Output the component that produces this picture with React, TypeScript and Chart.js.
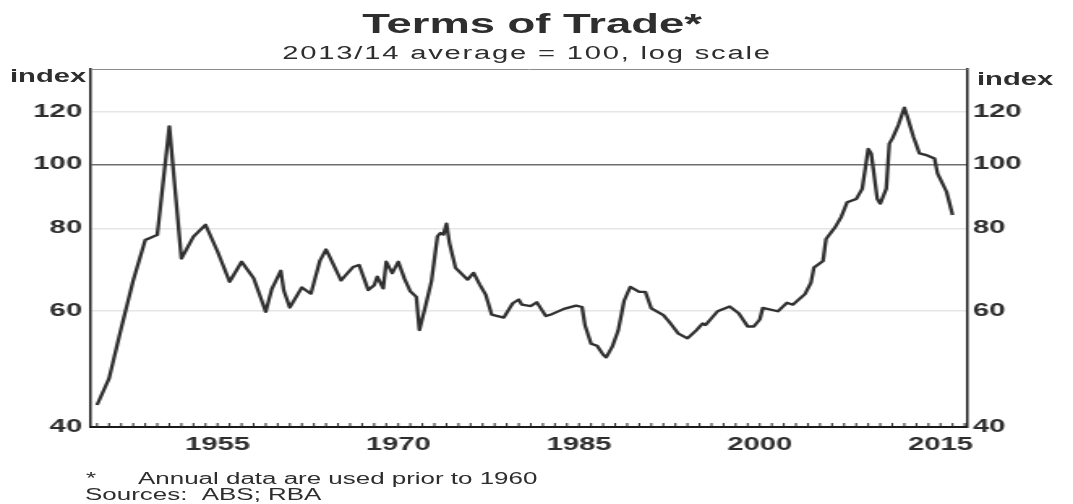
import React, { useEffect, useRef } from 'react';
import { Chart, registerables } from 'chart.js';

Chart.register(...registerables);

// ---------- data ----------
const annualYears = [1945, 1946, 1947, 1948, 1949, 1950, 1951, 1952, 1953, 1954, 1955, 1956, 1957, 1958, 1959];
const annualValues = [43.2, 47.4, 56.4, 66.7, 76.8, 78.2, 114.2, 72.0, 77.7, 81.0, 73.8, 66.4, 71.2, 67.2, 59.8];

const quarterlyDates = [
  1959.5, 1960.25, 1960.5, 1961.0, 1961.5, 1962.0, 1962.75, 1963.5, 1964.0, 1964.25,
  1965.25, 1965.5, 1966.25, 1966.75, 1967.0, 1967.5, 1968.0, 1968.25, 1968.75, 1969.0,
  1969.5, 1970.0, 1970.5, 1971.0, 1971.5, 1971.75, 1972.25, 1972.75, 1973.25, 1973.5,
  1973.75, 1974.0, 1974.25, 1974.75, 1975.75, 1976.25, 1976.75, 1977.25, 1977.75, 1978.25,
  1978.75, 1979.5, 1980.0, 1980.25, 1981.0, 1981.5, 1982.25, 1982.75, 1983.75, 1984.75,
  1985.25, 1985.5, 1986.0, 1986.5, 1987.0, 1987.25, 1987.75, 1988.25, 1988.75, 1989.25,
  1990.0, 1990.5, 1991.0, 1992.0, 1992.5, 1993.25, 1994.0, 1994.75, 1995.25, 1995.5,
  1996.5, 1997.5, 1998.25, 1999.0, 1999.5, 2000.0, 2000.25, 2001.5, 2002.25, 2002.75,
  2003.75, 2004.25, 2004.5, 2005.25, 2005.5, 2006.25, 2006.75, 2007.25, 2008.0, 2008.5,
  2009.0, 2009.25, 2009.75, 2010.0, 2010.5, 2010.75, 2011.0, 2011.5, 2012.0, 2012.25,
  2012.75, 2013.25, 2013.75, 2014.5, 2014.75, 2015.5, 2016.0,
];
const quarterlyValues = [
  64.7, 69.0, 64.4, 60.7, 62.9, 65.1, 63.7, 71.5, 74.3, 72.8,
  66.7, 67.5, 69.9, 70.4, 68.4, 64.5, 65.6, 67.6, 64.9, 71.2,
  68.4, 71.2, 67.2, 64.2, 63.0, 56.1, 60.9, 66.5, 77.8, 78.7,
  78.3, 81.3, 76.0, 69.7, 66.9, 68.5, 65.8, 63.5, 59.2, 58.9,
  58.6, 61.6, 62.4, 61.3, 61.0, 61.8, 58.9, 59.3, 60.4, 61.1,
  60.8, 57.0, 53.5, 53.1, 51.5, 51.0, 52.9, 56.0, 62.2, 65.2,
  64.1, 64.1, 60.5, 59.1, 57.7, 55.4, 54.5, 56.1, 57.4, 57.1,
  59.9, 60.9, 59.5, 56.8, 56.8, 58.2, 60.6, 59.9, 61.7, 61.3,
  63.6, 66.2, 69.8, 71.4, 77.1, 80.3, 83.2, 87.6, 88.6, 91.8,
  105.6, 103.8, 88.7, 87.2, 91.9, 107.5, 109.4, 114.7, 121.9, 118.1,
  110.1, 103.9, 103.4, 102.1, 96.9, 90.9, 83.8,
];

const yTickValues = [40, 60, 80, 100, 120];
const xLabelYears = [1955, 1970, 1985, 2000, 2015];

const TITLE = 'Terms of Trade*';
const SUBTITLE = '2013/14 average = 100, log scale';
const Y_UNIT = 'index';
const NOTE_MARK = '*';
const NOTE_TEXT = 'Annual data are used prior to 1960';
const SOURCES = 'Sources:\u00a0\u00a0ABS; RBA';

// ---------- layout / style ----------
const X_MIN = 1944.5;
const X_MAX = 2017.2;
const Y_MIN = 40;
const Y_MAX = 139.5;

const W = 1073;
const H = 504;
const CW = 662; // canvas width before horizontal stretch
const S = W / CW; // horizontal stretch of the scanned original
const FONT = "'Liberation Sans', Arial, Helvetica, sans-serif";
const INK = '#2e2e2e';

const framePlugin = {
  id: 'frame',
  afterDraw(chart: any) {
    const { ctx, chartArea, scales } = chart;
    const { left, right, top, bottom } = chartArea;
    ctx.save();
    // top frame line
    ctx.strokeStyle = '#8c8c8c';
    ctx.lineWidth = 1;
    ctx.beginPath();
    ctx.moveTo(left, top + 0.5);
    ctx.lineTo(right, top + 0.5);
    ctx.stroke();
    // yearly inside ticks on the bottom axis
    const xs = scales.x;
    ctx.strokeStyle = '#222222';
    ctx.lineWidth = 1;
    ctx.beginPath();
    for (let yr = Math.ceil(xs.min); yr <= xs.max; yr++) {
      const px = xs.getPixelForValue(yr);
      ctx.moveTo(px, bottom);
      ctx.lineTo(px, bottom - 4);
    }
    ctx.stroke();
    ctx.restore();
  },
};

const tickFont = { family: FONT, size: 18, weight: 'bold' as const };

export default function App() {
  const ref = useRef<HTMLCanvasElement>(null);

  useEffect(() => {
    const canvas = ref.current;
    if (!canvas) return;
    const points = [
      ...annualYears.map((x, i) => ({ x, y: annualValues[i] })),
      ...quarterlyDates.map((x, i) => ({ x, y: quarterlyValues[i] })),
    ];
    const chart = new Chart(canvas, {
      type: 'line',
      data: {
        datasets: [
          {
            data: points,
            borderColor: '#303030',
            borderWidth: 2.3,
            pointRadius: 0,
            tension: 0,
            borderJoinStyle: 'round',
            fill: false,
          },
        ],
      },
      options: {
        responsive: false,
        animation: false,
        devicePixelRatio: 1,
        parsing: false,
        normalized: true,
        layout: { padding: { top: 69, bottom: 37, left: 0, right: 0 } },
        plugins: {
          legend: { display: false },
          tooltip: { enabled: false },
          title: { display: false },
        },
        scales: {
          x: {
            type: 'linear',
            min: X_MIN,
            max: X_MAX,
            afterBuildTicks: (s: any) => {
              s.ticks = xLabelYears.map((v) => ({ value: v }));
            },
            afterFit: (s: any) => {
              s.height = 40;
            },
            ticks: {
              autoSkip: false,
              maxRotation: 0,
              padding: 7,
              font: tickFont,
              color: INK,
              callback: (v: any) => String(v),
            },
            grid: { display: false, drawTicks: false },
            border: { display: true, color: '#1a1a1a', width: 2 },
          },
          y: {
            type: 'logarithmic',
            position: 'left',
            min: Y_MIN,
            max: Y_MAX,
            afterBuildTicks: (s: any) => {
              s.ticks = yTickValues.map((v) => ({ value: v }));
            },
            afterFit: (s: any) => {
              s.width = 91 / S;
            },
            ticks: {
              padding: 5.5,
              font: tickFont,
              color: INK,
              callback: (v: any) => String(v),
            },
            grid: {
              drawTicks: false,
              color: (c: any) =>
                c.tick && c.tick.value === 100
                  ? '#6e6e6e'
                  : c.tick && c.tick.value === 40
                  ? 'rgba(0,0,0,0)'
                  : '#e6e6e6',
              lineWidth: 1.5,
            },
            border: { display: true, color: '#1a1a1a', width: 1.5 },
          },
          y2: {
            type: 'logarithmic',
            position: 'right',
            min: Y_MIN,
            max: Y_MAX,
            afterBuildTicks: (s: any) => {
              s.ticks = yTickValues.map((v) => ({ value: v }));
            },
            afterFit: (s: any) => {
              s.width = (W - 967) / S;
            },
            ticks: {
              padding: 3.7,
              font: tickFont,
              color: INK,
              callback: (v: any) => String(v),
            },
            grid: { display: false, drawTicks: false },
            border: { display: true, color: '#1a1a1a', width: 1.5 },
          },
        },
      } as any,
      plugins: [framePlugin],
    });
    return () => chart.destroy();
  }, []);

  const base: React.CSSProperties = {
    position: 'absolute',
    whiteSpace: 'nowrap',
    fontFamily: FONT,
    color: INK,
    margin: 0,
  };

  return (
    <div
      style={{
        position: 'absolute',
        left: 0,
        top: 0,
        width: W,
        height: H,
        overflow: 'hidden',
        background: '#ffffff',
      }}
    >
      <div
        style={{
          position: 'absolute',
          left: 0,
          top: 0,
          width: CW,
          height: H,
          transform: `scaleX(${S})`,
          transformOrigin: '0 0',
        }}
      >
        <canvas ref={ref} width={CW} height={H} style={{ display: 'block' }} />
      </div>
      <div
        style={{
          ...base,
          left: 532 - 300,
          width: 600,
          top: 10,
          fontSize: 28,
          lineHeight: '28px',
          fontWeight: 'bold',
          textAlign: 'center',
          transform: `scaleX(${S})`,
          transformOrigin: '50% 0',
        }}
      >
        {TITLE}
      </div>
      <div
        style={{
          ...base,
          left: 527 - 300,
          width: 600,
          top: 44,
          fontSize: 18,
          lineHeight: '18px',
          letterSpacing: '1.1px',
          textAlign: 'center',
          transform: `scaleX(${S})`,
          transformOrigin: '50% 0',
        }}
      >
        {SUBTITLE}
      </div>
      <div
        style={{
          ...base,
          left: 10,
          top: 67,
          fontSize: 18,
          lineHeight: '18px',
          fontWeight: 'bold',
          transform: `scaleX(${S})`,
          transformOrigin: '0 0',
        }}
      >
        {Y_UNIT}
      </div>
      <div
        style={{
          ...base,
          left: 977,
          top: 70,
          fontSize: 18,
          lineHeight: '18px',
          fontWeight: 'bold',
          transform: `scaleX(${S})`,
          transformOrigin: '0 0',
        }}
      >
        {Y_UNIT}
      </div>
      <div
        style={{
          ...base,
          left: 86,
          top: 471,
          fontSize: 16,
          lineHeight: '16px',
          transform: `scaleX(${S})`,
          transformOrigin: '0 0',
        }}
      >
        {NOTE_MARK}
      </div>
      <div
        style={{
          ...base,
          left: 138,
          top: 471,
          fontSize: 16,
          lineHeight: '16px',
          transform: `scaleX(${S})`,
          transformOrigin: '0 0',
        }}
      >
        {NOTE_TEXT}
      </div>
      <div
        style={{
          ...base,
          left: 85,
          top: 487,
          fontSize: 16,
          lineHeight: '16px',
          transform: `scaleX(${S})`,
          transformOrigin: '0 0',
        }}
      >
        {SOURCES}
      </div>
    </div>
  );
}
